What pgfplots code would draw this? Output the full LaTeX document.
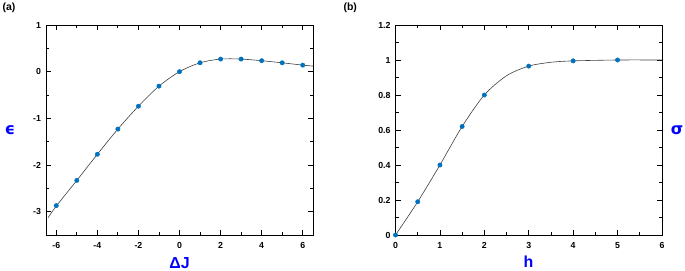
\documentclass[border=0pt]{standalone}
\usepackage{fontspec}
\setmainfont{Liberation Sans}
\newfontfamily\dejavu{DejaVu Sans}
\usepackage{pgfplots}
\pgfplotsset{compat=1.18}
\definecolor{mk}{RGB}{0,114,189}
\definecolor{lblue}{RGB}{0,0,255}
\begin{document}
\begin{tikzpicture}
\path[use as bounding box] (0bp,0bp) rectangle (685bp,-271bp);
\pgfplotsset{
  every axis/.append style={
    scale only axis, height=210bp,
    axis line style={line width=0.9pt},
    tick style={black, line width=0.8pt},
    major tick length=5bp, minor tick length=3bp,
    tick align=inside,
    xtick pos=both, ytick pos=both,
    /pgf/number format/assume math mode=true,
    ticklabel style={font=\fontsize{8.8}{10}\selectfont\bfseries},
    xticklabel style={yshift=-3.5bp},
    yticklabel style={xshift=-1.5bp},
    clip=false,
  },
}
% panel (a)
\begin{axis}[at={(46bp,-235bp)}, anchor=south west, width=267bp,
  xmin=-6.5, xmax=6.5, ymin=-3.5, ymax=1,
  xtick={-6,-4,...,6}, minor xtick={-5,-3,...,5},
  ytick={-3,-2,-1,0,1}, minor ytick={-3.5,-2.5,-1.5,-0.5,0.5},
  /pgf/number format/fixed]
\addplot[smooth, line width=0.6pt, black!75] coordinates {
 (-6.4,-3.13) (-6,-2.88) (-5,-2.33) (-4,-1.77) (-3,-1.23) (-2,-0.74) (-1,-0.31)
 (0,0.0) (1,0.19) (2,0.27) (3,0.27) (4,0.235) (5,0.19) (6,0.14) (6.5,0.12)};
\addplot[only marks, mark=*, mark size=2.2bp, mk, mark options={draw=mk, fill=mk}] coordinates {
 (-6,-2.87) (-5,-2.33) (-4,-1.77) (-3,-1.23) (-2,-0.74) (-1,-0.31)
 (0,0.0) (1,0.19) (2,0.27) (3,0.27) (4,0.235) (5,0.19) (6,0.14)};
\end{axis}
% panel (b)
\begin{axis}[at={(395.5bp,-235bp)}, anchor=south west, width=266.5bp,
  xmin=0, xmax=6, ymin=0, ymax=1.2,
  xtick={0,1,...,6}, minor xtick={0.5,1.5,...,5.5},
  ytick={0,0.2,0.4,0.6,0.8,1,1.2}, minor ytick={0.1,0.3,...,1.1},
  /pgf/number format/fixed, /pgf/number format/precision=1]
\addplot[smooth, line width=0.6pt, black!75] coordinates {
 (0,0) (0.5,0.19) (1,0.40) (1.5,0.62) (2,0.80) (2.5,0.91) (3,0.965) (3.5,0.987) (4,0.995) (5,1.0) (6,1.0)};
\addplot[only marks, mark=*, mark size=2.2bp, mk, mark options={draw=mk, fill=mk}] coordinates {
 (0,0) (0.5,0.19) (1,0.40) (1.5,0.62) (2,0.80) (3,0.965) (4,0.995) (5,1.0)};
\end{axis}
% labels
\node[anchor=west, font=\fontsize{10.5}{12}\selectfont\bfseries] at (-1bp,-8bp) {(a)};
\node[anchor=west, font=\fontsize{10.5}{12}\selectfont\bfseries] at (340bp,-8bp) {(b)};
\node[font=\fontsize{16}{17}\selectfont\bfseries\dejavu, text=lblue] at (10bp,-130bp) {ϵ};
\node[font=\fontsize{16}{17}\selectfont\bfseries\dejavu, text=lblue] at (677bp,-130bp) {σ};
\node[font=\fontsize{16}{17}\selectfont\bfseries, text=lblue] at (179.5bp,-263bp) {ΔJ};
\node[font=\fontsize{16}{17}\selectfont\bfseries, text=lblue] at (528.5bp,-262bp) {h};
\end{tikzpicture}
\end{document}
